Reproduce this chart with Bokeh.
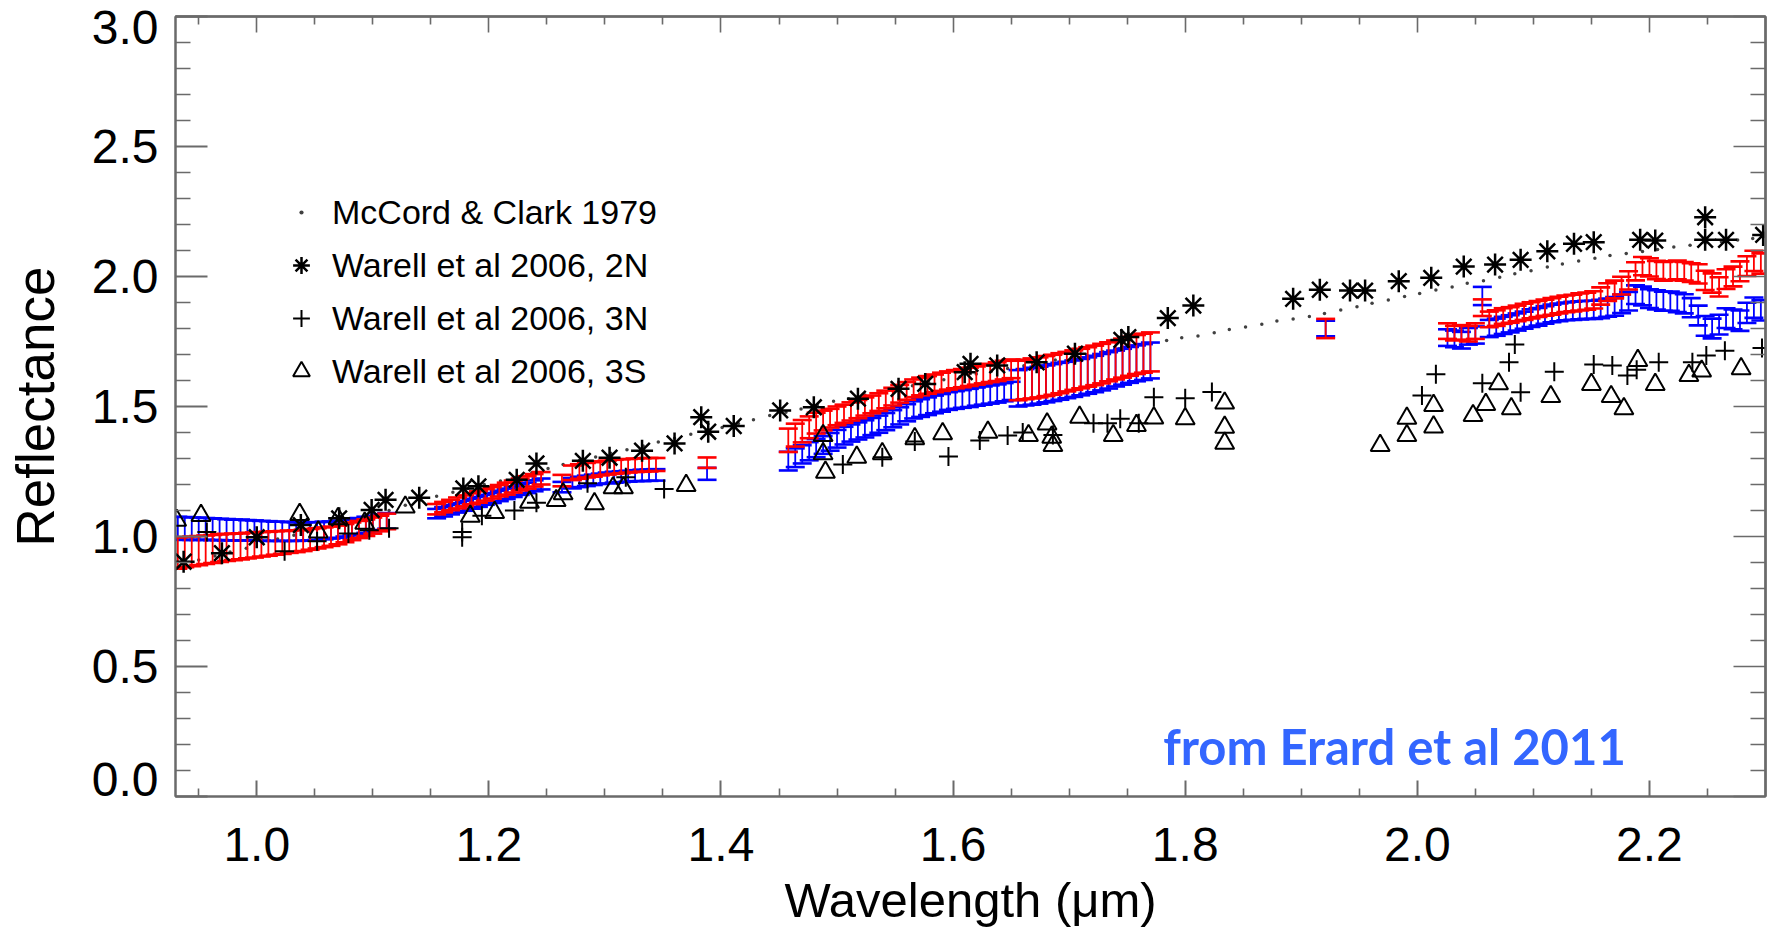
from bokeh.plotting import figure
from bokeh.models import (Range1d, FixedTicker, PrintfTickFormatter, LinearAxis,
                          Legend, LegendItem, Label)
from bokeh.embed import file_html
from bokeh.resources import INLINE

# ---------------- data ----------------
# McCord & Clark 1979 (small dots)
mc_wl = [0.950, 0.964, 0.977, 0.991, 1.005, 1.018, 1.032, 1.046, 1.059, 1.073,
         1.087, 1.100, 1.114, 1.128, 1.141, 1.155, 1.169, 1.182, 1.196, 1.210,
         1.223, 1.237, 1.251, 1.264, 1.278, 1.292, 1.305, 1.319, 1.333, 1.346,
         1.360, 1.374, 1.387, 1.401, 1.415, 1.428, 1.442, 1.456, 1.469, 1.483,
         1.497, 1.510, 1.524, 1.538, 1.551, 1.565, 1.579, 1.592, 1.606, 1.620,
         1.633, 1.647, 1.661, 1.674, 1.688, 1.702, 1.715, 1.729, 1.743, 1.756,
         1.770, 1.784, 1.797, 1.811, 1.825, 1.838, 1.852, 1.866, 1.879, 1.893,
         1.907, 1.920, 1.934, 1.948, 1.961, 1.975, 1.989, 2.002, 2.016, 2.030,
         2.043, 2.057, 2.071, 2.084, 2.098, 2.112, 2.125, 2.139, 2.153, 2.166,
         2.180, 2.194, 2.207, 2.221, 2.235, 2.248, 2.262, 2.276, 2.289]
mc_refl = [0.910, 0.925, 0.940, 0.955, 0.975, 0.990, 1.005, 1.020, 1.035, 1.050,
           1.065, 1.080, 1.100, 1.120, 1.140, 1.155, 1.170, 1.185, 1.200, 1.213,
           1.228, 1.245, 1.262, 1.277, 1.292, 1.306, 1.320, 1.334, 1.348, 1.363,
           1.378, 1.393, 1.405, 1.419, 1.435, 1.449, 1.465, 1.478, 1.490, 1.505,
           1.520, 1.530, 1.544, 1.556, 1.567, 1.580, 1.592, 1.603, 1.614, 1.625,
           1.636, 1.646, 1.657, 1.668, 1.679, 1.690, 1.700, 1.711, 1.722, 1.733,
           1.743, 1.754, 1.764, 1.771, 1.784, 1.796, 1.806, 1.816, 1.829, 1.837,
           1.846, 1.858, 1.871, 1.884, 1.897, 1.910, 1.923, 1.935, 1.948, 1.960,
           1.974, 1.984, 1.997, 2.011, 2.022, 2.037, 2.048, 2.060, 2.070, 2.081,
           2.088, 2.096, 2.104, 2.113, 2.120, 2.128, 2.134, 2.140, 2.146]

# Warell et al 2006, 2N (asterisks)
w2n_wl = [0.937, 0.970, 1.000, 1.038, 1.071, 1.099, 1.111, 1.140, 1.178, 1.191,
          1.224, 1.241, 1.281, 1.304, 1.332, 1.360, 1.383, 1.389, 1.411, 1.451,
          1.480, 1.518, 1.553, 1.576, 1.610, 1.615, 1.638, 1.672, 1.705, 1.745,
          1.751, 1.785, 1.807, 1.893, 1.916, 1.942, 1.955, 1.984, 2.012, 2.040,
          2.067, 2.089, 2.112, 2.135, 2.152, 2.192, 2.205, 2.248, 2.248, 2.266,
          2.298]
w2n_refl = [0.903, 0.936, 0.997, 1.044, 1.070, 1.102, 1.141, 1.149, 1.185, 1.193,
            1.218, 1.281, 1.291, 1.303, 1.330, 1.358, 1.459, 1.403, 1.425, 1.485,
            1.497, 1.530, 1.568, 1.587, 1.632, 1.664, 1.658, 1.670, 1.703, 1.756,
            1.767, 1.840, 1.888, 1.914, 1.949, 1.946, 1.946, 1.982, 1.995, 2.038,
            2.046, 2.064, 2.097, 2.126, 2.132, 2.141, 2.138, 2.228, 2.141, 2.141,
            2.160]

# Warell et al 2006, 3N (plus signs)
w3n_wl = [0.957, 1.024, 1.052, 1.079, 1.097, 1.114, 1.177, 1.177, 1.194, 1.222,
          1.241, 1.285, 1.318, 1.351, 1.505, 1.539, 1.567, 1.596, 1.623, 1.647,
          1.660, 1.686, 1.721, 1.733, 1.744, 1.760, 1.773, 1.800, 1.823, 2.004,
          2.016, 2.056, 2.079, 2.084, 2.089, 2.118, 2.152, 2.168, 2.181, 2.189,
          2.208, 2.237, 2.249, 2.265, 2.297]
w3n_refl = [1.017, 0.943, 0.982, 1.012, 1.024, 1.032, 0.997, 1.017, 1.080, 1.100,
            1.130, 1.205, 1.228, 1.183, 1.277, 1.305, 1.365, 1.308, 1.369, 1.388,
            1.400, 1.390, 1.436, 1.436, 1.453, 1.436, 1.536, 1.532, 1.556, 1.542,
            1.624, 1.589, 1.670, 1.738, 1.555, 1.634, 1.662, 1.658, 1.619, 1.641,
            1.670, 1.670, 1.696, 1.714, 1.725]

# Warell et al 2006, 3S (open triangles)
w3s_wl = [0.931, 0.952, 1.037, 1.053, 1.070, 1.093, 1.128, 1.184, 1.205, 1.235,
          1.258, 1.264, 1.291, 1.307, 1.316, 1.370, 1.488, 1.488, 1.490, 1.517,
          1.539, 1.567, 1.591, 1.630, 1.665, 1.681, 1.685, 1.686, 1.709, 1.738,
          1.758, 1.773, 1.800, 1.834, 1.834, 1.834, 1.968, 1.991, 1.991, 2.014,
          2.014, 2.048, 2.059, 2.070, 2.081, 2.115, 2.150, 2.167, 2.178, 2.190,
          2.205, 2.234, 2.245, 2.279]
w3s_refl = [1.062, 1.081, 1.085, 1.017, 1.068, 1.051, 1.113, 1.078, 1.092, 1.132,
            1.138, 1.164, 1.126, 1.187, 1.187, 1.196, 1.388, 1.318, 1.247, 1.305,
            1.318, 1.376, 1.395, 1.401, 1.388, 1.433, 1.382, 1.350, 1.459, 1.388,
            1.427, 1.456, 1.453, 1.513, 1.420, 1.359, 1.350, 1.455, 1.388, 1.504,
            1.421, 1.465, 1.508, 1.587, 1.491, 1.538, 1.585, 1.538, 1.491, 1.677,
            1.585, 1.619, 1.636, 1.645]

# Spectra with error bars (red and blue), piece by piece
a_wl = [0.932, 0.938, 0.944, 0.950, 0.956, 0.962, 0.968, 0.974, 0.980, 0.986,
        0.992, 0.998, 1.004, 1.010, 1.016, 1.022, 1.028, 1.034, 1.040, 1.046,
        1.052, 1.058, 1.064, 1.070, 1.076, 1.082, 1.088, 1.094, 1.100, 1.106, 1.112]
a_red = [0.936, 0.940, 0.943, 0.946, 0.949, 0.952, 0.955, 0.958, 0.960, 0.962,
         0.965, 0.967, 0.970, 0.972, 0.975, 0.977, 0.980, 0.982, 0.985, 0.989,
         0.993, 0.997, 1.001, 1.006, 1.013, 1.020, 1.027, 1.034, 1.042, 1.050, 1.058]
a_red_err = [0.060, 0.058, 0.057, 0.056, 0.055, 0.054, 0.053, 0.052, 0.051, 0.050,
             0.049, 0.048, 0.047, 0.046, 0.045, 0.044, 0.043, 0.042, 0.041, 0.040,
             0.039, 0.038, 0.037, 0.036, 0.035, 0.034, 0.033, 0.032, 0.031, 0.030, 0.030]
a_blue = [1.032, 1.031, 1.030, 1.030, 1.029, 1.028, 1.027, 1.026, 1.025, 1.025,
          1.024, 1.023, 1.022, 1.021, 1.020, 1.020, 1.019, 1.019, 1.019, 1.020,
          1.021, 1.023, 1.025, 1.028, 1.032, 1.036, 1.040, 1.045, 1.050, 1.055, 1.060]
a_blue_err = [0.044, 0.044, 0.043, 0.043, 0.042, 0.042, 0.041, 0.041, 0.040, 0.040,
              0.039, 0.039, 0.038, 0.038, 0.037, 0.037, 0.036, 0.036, 0.035, 0.035,
              0.034, 0.034, 0.033, 0.033, 0.032, 0.032, 0.031, 0.031, 0.030, 0.030, 0.030]

b_wl = [1.155, 1.161, 1.167, 1.173, 1.179, 1.185, 1.191, 1.197, 1.203, 1.209,
        1.215, 1.221, 1.227, 1.233, 1.239, 1.245, 1.263, 1.272, 1.278, 1.284,
        1.290, 1.296, 1.302, 1.308, 1.314, 1.320, 1.326, 1.332, 1.338, 1.344, 1.388]
b_red = [1.105, 1.113, 1.121, 1.129, 1.137, 1.145, 1.152, 1.160, 1.168, 1.176,
         1.184, 1.192, 1.200, 1.208, 1.216, 1.224, 1.215, 1.245, 1.250, 1.255,
         1.258, 1.262, 1.265, 1.268, 1.270, 1.272, 1.274, 1.275, 1.276, 1.277, 1.284]
b_red_err = [0.020, 0.020, 0.020, 0.021, 0.021, 0.021, 0.022, 0.022, 0.022, 0.022,
             0.023, 0.023, 0.023, 0.024, 0.024, 0.024, 0.022, 0.028, 0.028, 0.028,
             0.028, 0.027, 0.027, 0.027, 0.027, 0.026, 0.026, 0.026, 0.026, 0.025, 0.020]
b_blue = [1.088, 1.095, 1.103, 1.110, 1.118, 1.126, 1.133, 1.141, 1.148, 1.156,
          1.164, 1.172, 1.180, 1.187, 1.195, 1.202, 1.190, 1.205, 1.210, 1.214,
          1.218, 1.222, 1.225, 1.228, 1.230, 1.232, 1.234, 1.235, 1.236, 1.237, 1.241]
b_blue_err = [0.018, 0.018, 0.018, 0.018, 0.019, 0.019, 0.019, 0.019, 0.019, 0.020,
              0.020, 0.020, 0.020, 0.020, 0.021, 0.021, 0.020, 0.020, 0.020, 0.020,
              0.020, 0.020, 0.021, 0.021, 0.021, 0.021, 0.021, 0.022, 0.022, 0.022, 0.023]

c_wl = [1.458, 1.464, 1.470, 1.476, 1.482, 1.488, 1.494, 1.500, 1.506, 1.512,
        1.518, 1.524, 1.530, 1.536, 1.542, 1.548, 1.554, 1.560, 1.566, 1.572,
        1.578, 1.584, 1.590, 1.596, 1.602, 1.608, 1.614, 1.620, 1.626, 1.632,
        1.638, 1.644, 1.650, 1.656, 1.662, 1.668, 1.674, 1.680, 1.686, 1.692,
        1.698, 1.704, 1.710, 1.716, 1.722, 1.728, 1.734, 1.740, 1.746, 1.752,
        1.758, 1.764, 1.770, 1.921]
c_red = [1.370, 1.390, 1.405, 1.420, 1.436, 1.446, 1.455, 1.464, 1.472, 1.481,
         1.490, 1.500, 1.508, 1.517, 1.527, 1.538, 1.549, 1.560, 1.570, 1.577,
         1.583, 1.589, 1.595, 1.600, 1.605, 1.609, 1.614, 1.619, 1.624, 1.629,
         1.634, 1.640, 1.645, 1.600, 1.604, 1.608, 1.612, 1.617, 1.622, 1.628,
         1.634, 1.640, 1.646, 1.652, 1.658, 1.665, 1.672, 1.679, 1.686, 1.693,
         1.700, 1.705, 1.710, 1.800]
c_red_err = [0.045, 0.044, 0.043, 0.042, 0.040, 0.038, 0.036, 0.036, 0.035, 0.035,
             0.035, 0.035, 0.034, 0.034, 0.034, 0.034, 0.034, 0.034, 0.034, 0.034,
             0.034, 0.034, 0.035, 0.035, 0.035, 0.035, 0.035, 0.035, 0.035, 0.035,
             0.036, 0.036, 0.036, 0.076, 0.076, 0.077, 0.077, 0.077, 0.077, 0.077,
             0.076, 0.076, 0.076, 0.076, 0.076, 0.076, 0.075, 0.075, 0.075, 0.075,
             0.075, 0.075, 0.075, 0.037]
c_blue = [1.290, 1.303, 1.316, 1.328, 1.340, 1.352, 1.364, 1.376, 1.388, 1.398,
          1.406, 1.414, 1.423, 1.432, 1.442, 1.453, 1.464, 1.476, 1.487, 1.494,
          1.501, 1.508, 1.514, 1.521, 1.525, 1.529, 1.533, 1.538, 1.542, 1.546,
          1.550, 1.555, 1.560, 1.570, 1.574, 1.578, 1.582, 1.587, 1.592, 1.597,
          1.602, 1.607, 1.613, 1.619, 1.625, 1.632, 1.639, 1.646, 1.653, 1.660,
          1.666, 1.671, 1.677, 1.800]
c_blue_err = [0.036, 0.036, 0.035, 0.035, 0.035, 0.034, 0.034, 0.034, 0.034, 0.033,
              0.033, 0.033, 0.033, 0.033, 0.033, 0.033, 0.033, 0.033, 0.033, 0.034,
              0.034, 0.034, 0.034, 0.034, 0.034, 0.034, 0.035, 0.035, 0.035, 0.035,
              0.035, 0.035, 0.035, 0.070, 0.070, 0.071, 0.071, 0.071, 0.071, 0.071,
              0.070, 0.070, 0.070, 0.070, 0.070, 0.070, 0.070, 0.069, 0.069, 0.069,
              0.069, 0.069, 0.069, 0.030]

d_wl = [2.026, 2.032, 2.038, 2.044, 2.050, 2.056, 2.062, 2.068, 2.074, 2.080,
        2.086, 2.092, 2.098, 2.104, 2.110, 2.116, 2.122, 2.128, 2.134, 2.140,
        2.146, 2.152, 2.158, 2.164, 2.170, 2.176, 2.182, 2.188, 2.194, 2.200,
        2.206, 2.212, 2.218, 2.224, 2.230, 2.236, 2.242, 2.248, 2.254, 2.260,
        2.266, 2.272, 2.278, 2.284, 2.290, 2.296]
d_red = [1.790, 1.782, 1.785, 1.780, 1.790, 1.880, 1.835, 1.840, 1.848, 1.852,
         1.858, 1.864, 1.870, 1.875, 1.880, 1.885, 1.890, 1.895, 1.898, 1.902,
         1.905, 1.910, 1.925, 1.940, 1.950, 1.965, 1.985, 2.020, 2.040, 2.035,
         2.025, 2.020, 2.022, 2.025, 2.020, 2.015, 2.010, 1.985, 1.975, 1.960,
         1.990, 2.000, 2.020, 2.040, 2.060, 2.050]
d_red_err = [0.030, 0.028, 0.028, 0.030, 0.030, 0.032, 0.030, 0.030, 0.030, 0.030,
             0.030, 0.031, 0.031, 0.031, 0.031, 0.032, 0.032, 0.032, 0.032, 0.033,
             0.033, 0.033, 0.033, 0.034, 0.034, 0.034, 0.035, 0.035, 0.035, 0.035,
             0.035, 0.036, 0.036, 0.036, 0.036, 0.036, 0.037, 0.037, 0.037, 0.037,
             0.038, 0.038, 0.038, 0.038, 0.039, 0.039]
d_blue = [1.765, 1.760, 1.755, 1.770, 1.775, 1.925, 1.800, 1.805, 1.812, 1.818,
          1.825, 1.832, 1.840, 1.845, 1.852, 1.858, 1.862, 1.866, 1.868, 1.870,
          1.872, 1.872, 1.875, 1.880, 1.885, 1.895, 1.905, 1.930, 1.925, 1.915,
          1.910, 1.905, 1.905, 1.900, 1.895, 1.880, 1.850, 1.810, 1.800, 1.815,
          1.840, 1.835, 1.830, 1.860, 1.880, 1.870]
d_blue_err = [0.032, 0.032, 0.032, 0.032, 0.033, 0.035, 0.033, 0.033, 0.033, 0.033,
              0.033, 0.033, 0.034, 0.034, 0.034, 0.034, 0.034, 0.034, 0.035, 0.035,
              0.035, 0.035, 0.035, 0.035, 0.036, 0.036, 0.036, 0.036, 0.036, 0.036,
              0.037, 0.037, 0.037, 0.037, 0.037, 0.037, 0.038, 0.038, 0.038, 0.038,
              0.038, 0.038, 0.039, 0.039, 0.039, 0.039]

# ticks and tick labels
x_major = [1.0, 1.2, 1.4, 1.6, 1.8, 2.0, 2.2]
x_minor = [0.95, 1.05, 1.1, 1.15, 1.25, 1.3, 1.35, 1.45, 1.5, 1.55, 1.65, 1.7,
           1.75, 1.85, 1.9, 1.95, 2.05, 2.1, 2.15, 2.25]
y_major = [0.0, 0.5, 1.0, 1.5, 2.0, 2.5, 3.0]
y_minor = [0.1, 0.2, 0.3, 0.4, 0.6, 0.7, 0.8, 0.9, 1.1, 1.2, 1.3, 1.4, 1.6, 1.7,
           1.8, 1.9, 2.1, 2.2, 2.3, 2.4, 2.6, 2.7, 2.8, 2.9]
# the bottom label sits a little above its tick, as in the original
y_end_labels = {0.0: "0.0\n"}

# ---------------- assemble error bars ----------------
bar_wl = a_wl + b_wl + c_wl + d_wl
red_val = a_red + b_red + c_red + d_red
red_err = a_red_err + b_red_err + c_red_err + d_red_err
blue_val = a_blue + b_blue + c_blue + d_blue
blue_err = a_blue_err + b_blue_err + c_blue_err + d_blue_err
for arr in (red_val, red_err, blue_val, blue_err):
    assert len(arr) == len(bar_wl), (len(arr), len(bar_wl))

FONT = "Liberation Sans"
AXC = "#6a6a6a"

p = figure(width=1767, height=930, output_backend="svg", toolbar_location=None,
           x_range=Range1d(0.93, 2.30), y_range=Range1d(0.0, 3.0),
           min_border_left=175, min_border_right=2, min_border_top=16,
           min_border_bottom=134)
p.xgrid.visible = False
p.ygrid.visible = False
p.outline_line_color = AXC
p.outline_line_width = 2
p.background_fill_color = "white"
p.border_fill_color = "white"


def style_axis(ax, major_in, minor_in):
    ax.axis_line_color = AXC
    ax.axis_line_width = 2
    ax.major_tick_line_color = AXC
    ax.major_tick_line_width = 2
    ax.minor_tick_line_color = AXC
    ax.minor_tick_line_width = 1.6
    ax.major_tick_in = major_in
    ax.major_tick_out = 0
    ax.minor_tick_in = minor_in
    ax.minor_tick_out = 0


xax = p.xaxis[0]
xax.ticker = FixedTicker(ticks=x_major, minor_ticks=x_minor)
xax.formatter = PrintfTickFormatter(format="%.1f")
style_axis(xax, 16, 8)
xax.major_label_text_font = FONT
xax.major_label_text_font_size = "48px"
xax.major_label_text_color = "black"
xax.major_label_standoff = 31
xax.axis_label = "Wavelength (\u03bcm)"
xax.axis_label_text_font = FONT
xax.axis_label_text_font_size = "49px"
xax.axis_label_text_font_style = "normal"
xax.axis_label_text_color = "black"
xax.axis_label_standoff = 9

yax = p.yaxis[0]
yax.ticker = FixedTicker(ticks=y_major, minor_ticks=y_minor)
yax.formatter = PrintfTickFormatter(format="%.1f")
yax.major_label_overrides = y_end_labels
style_axis(yax, 32, 15)
yax.major_label_text_font = FONT
yax.major_label_text_font_size = "48px"
yax.major_label_text_line_height = 0.64
yax.major_label_text_color = "black"
yax.major_label_standoff = 17
yax.axis_label = "Reflectance"
yax.axis_label_text_font = FONT
yax.axis_label_text_font_size = "53px"
yax.axis_label_text_font_style = "normal"
yax.axis_label_text_color = "black"
yax.axis_label_standoff = 24

# label-free tick axes on the top and the right (ticks only, pointing inward)
for tick_list, length in ((x_major, 16), (x_minor, 8)):
    ax = LinearAxis(ticker=FixedTicker(ticks=[], minor_ticks=tick_list))
    style_axis(ax, 0, length)
    ax.major_label_standoff = 0
    p.add_layout(ax, "above")
for tick_list, length in ((y_major, 32), (y_minor, 15)):
    ax = LinearAxis(ticker=FixedTicker(ticks=[], minor_ticks=tick_list))
    style_axis(ax, 0, length)
    ax.major_label_standoff = 0
    p.add_layout(ax, "right")

# McCord & Clark dots
r_mc = p.scatter(mc_wl, mc_refl, marker="dot", size=14, line_color="#404040",
                 fill_color="#404040")


def error_bars(vals, errs, color):
    lo = [v - e for v, e in zip(vals, errs)]
    hi = [v + e for v, e in zip(vals, errs)]
    p.segment(x0=bar_wl, y0=lo, x1=bar_wl, y1=hi, line_color=color, line_width=1.8)
    p.scatter(x=bar_wl + bar_wl, y=lo + hi, marker="dash", size=19,
              line_color=color, line_width=2.6)


error_bars(blue_val, blue_err, "#0000ff")
error_bars(red_val, red_err, "#ff0000")

r_2n = p.scatter(w2n_wl, w2n_refl, marker="asterisk", size=22, line_color="black",
                 line_width=2.5)
r_3n = p.scatter(w3n_wl, w3n_refl, marker="cross", size=19, line_color="black",
                 line_width=2)
r_3s = p.scatter(w3s_wl, w3s_refl, marker="triangle", size=19, line_color="black",
                 line_width=2, fill_color=None)

legend = Legend(items=[LegendItem(label="McCord & Clark 1979", renderers=[r_mc]),
                       LegendItem(label="Warell et al 2006, 2N", renderers=[r_2n]),
                       LegendItem(label="Warell et al 2006, 3N", renderers=[r_3n]),
                       LegendItem(label="Warell et al 2006, 3S", renderers=[r_3s])],
                location=(105, 404), background_fill_alpha=0, border_line_alpha=0,
                label_text_font=FONT, label_text_font_size="34px",
                label_text_color="black",
                glyph_width=42, glyph_height=42, label_height=42, spacing=11,
                padding=0, margin=0, label_standoff=10)
p.add_layout(legend)

p.add_layout(Label(x=1.781, y=0.196, text="from Erard et al 2011", text_font="Lato",
                   text_font_style="bold", text_font_size="49px", text_color="#3366ff",
                   text_baseline="alphabetic", text_align="left"))

open("out.html", "w").write(file_html(p, INLINE))
